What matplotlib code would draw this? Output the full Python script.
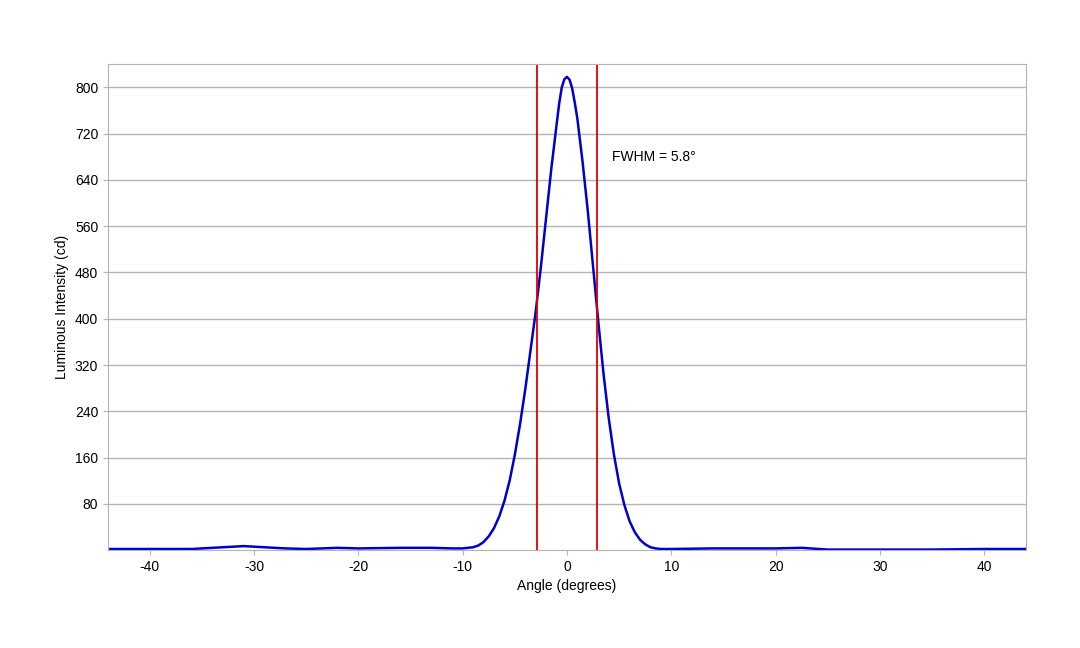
import numpy as np
import matplotlib.pyplot as plt

plt.rcParams['font.family'] = ['Liberation Sans', 'DejaVu Sans']
plt.rcParams['axes.unicode_minus'] = False

# angle (deg) and luminous intensity (cd)
angle = [-44, -40, -36, -34, -31, -29, -27, -25, -22, -20, -16, -13, -11, -10,
         -9, -8.5, -8, -7.5, -7, -6.5, -6, -5.5, -5, -4.5, -4, -3.5, -3, -2.5,
         -2, -1.5, -1, -0.75, -0.5, -0.25, 0, 0.25, 0.5, 0.75, 1, 1.5, 2, 2.5, 3, 3.5, 4, 4.5, 5, 5.5,
         6, 6.5, 7, 7.5, 8, 8.5, 9, 10, 14, 18, 20, 22.5, 25, 30, 35, 40, 44]
intensity = [2, 2, 2, 4, 7, 5, 3, 2, 4, 3, 4, 4, 3, 3,
             5, 8, 14, 24, 38, 58, 85, 120, 165, 218, 278, 345, 412, 490,
             575, 660, 735, 772, 800, 814, 818, 813, 798, 773, 745, 670, 585, 490, 395, 305, 228, 165, 115, 78,
             50, 31, 18, 10, 5, 3, 2, 2, 3, 3, 3, 4, 1, 1, 1, 2, 2]
fwhm_left, fwhm_right = -2.9, 2.9

fig = plt.figure(figsize=(10.8, 6.48), dpi=100)
ax = fig.add_axes([0.1, 0.151, 0.85, 0.75])
ax.plot(angle, intensity, color='#0000cc', lw=1.8)
ax.axvline(fwhm_left, color='#dd0000', lw=1.3)
ax.axvline(fwhm_right, color='#dd0000', lw=1.3)
ax.text(4.3, 679, 'FWHM = 5.8°', fontsize=10, va='center')

ax.set_xlim(-44, 44)
ax.set_ylim(0, 840)
ax.set_xticks(range(-40, 41, 10))
ax.set_yticks(range(80, 801, 80))
ax.yaxis.grid(True, color='#b3b3b3', lw=1)
ax.set_axisbelow(True)
for s in ax.spines.values():
    s.set_color('#b3b3b3')
ax.tick_params(colors='#b3b3b3', labelcolor='black', labelsize=10)
ax.set_xlabel('Angle (degrees)', fontsize=10)
ax.set_ylabel('Luminous Intensity (cd)', fontsize=10)

fig.savefig('out.png')
